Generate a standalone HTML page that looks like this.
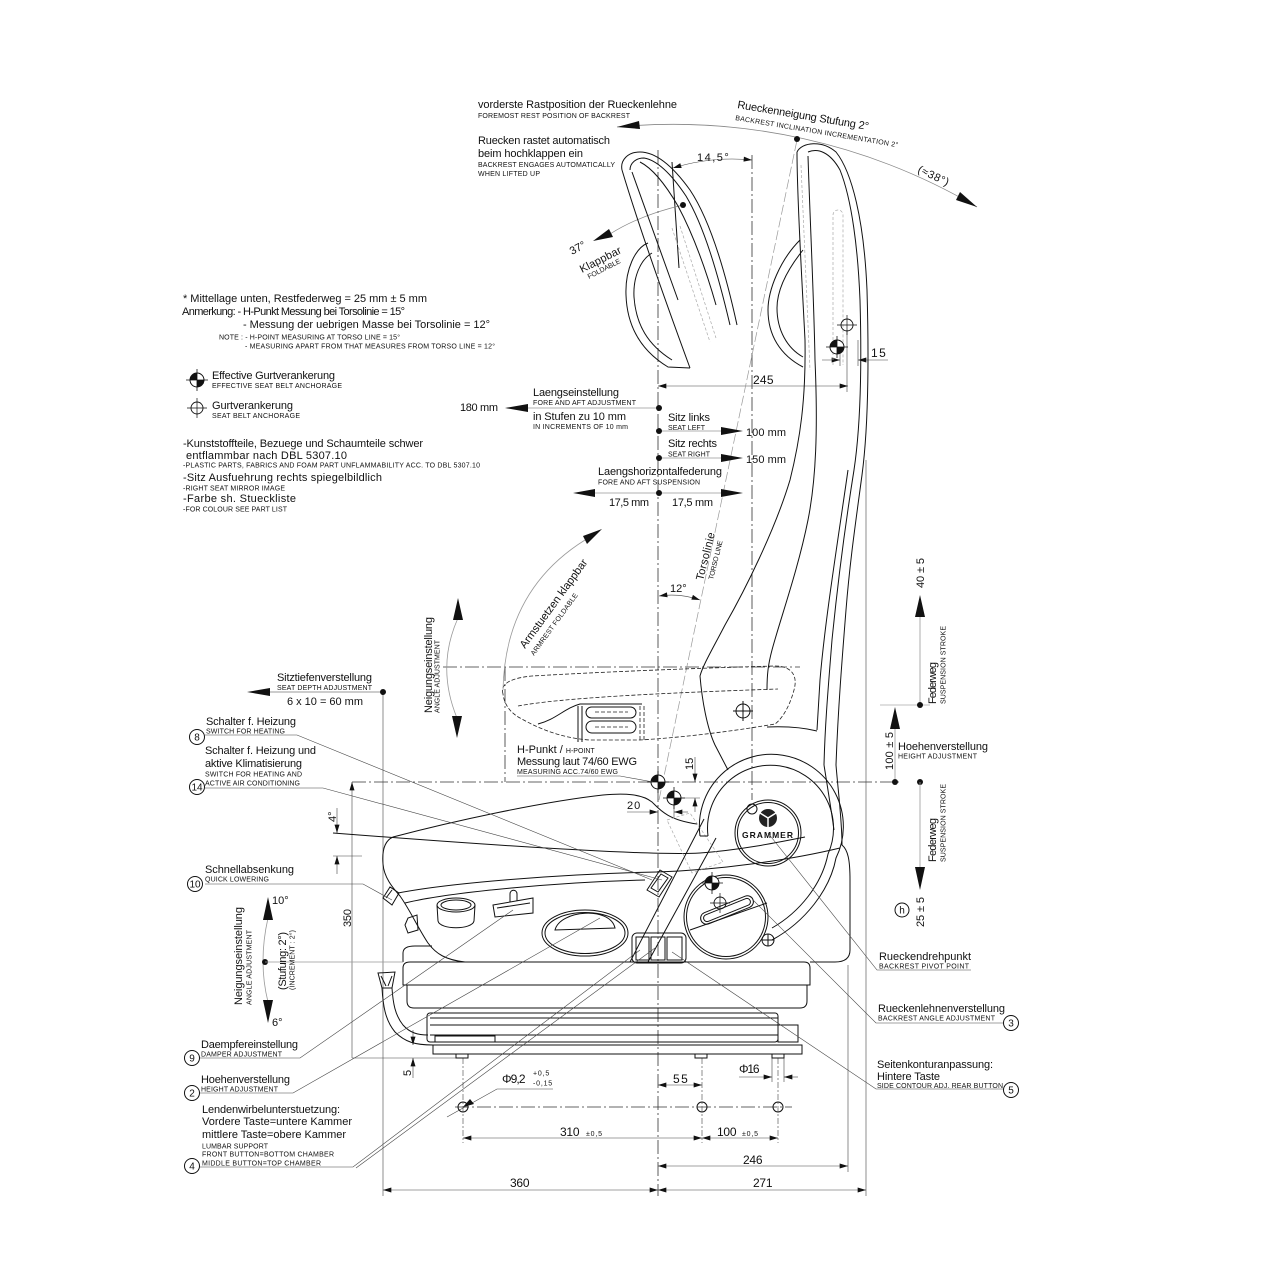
<!DOCTYPE html>
<html><head><meta charset="utf-8">
<style>
html,body{margin:0;padding:0;background:#fff;width:1280px;height:1280px;overflow:hidden}
svg{display:block}
text{font-family:"Liberation Sans",Arial,sans-serif;fill:#111;stroke:none}
.b{font-size:11px}
.s{font-size:7px}
.d{font-size:12px;letter-spacing:1.5px}
.n{font-size:10px;text-anchor:middle}
.k{fill:none;stroke:#111;stroke-width:1}
.t{fill:none;stroke:#444;stroke-width:0.6}
.dd{fill:none;stroke:#333;stroke-width:0.8;stroke-dasharray:14 3 2 3}
.dsh{fill:none;stroke:#222;stroke-width:0.8;stroke-dasharray:4 2}
.gr{fill:none;stroke:#aaa;stroke-width:0.7;stroke-dasharray:3 2}
.ar{fill:#111;stroke:none}
</style></head><body>
<svg width="1280" height="1280" viewBox="0 0 1280 1280" xmlns="http://www.w3.org/2000/svg">
<defs>
<marker id="m" viewBox="0 0 10 6" refX="10" refY="3" markerWidth="9" markerHeight="5" markerUnits="userSpaceOnUse" orient="auto-start-reverse"><path d="M0,0 L10,3 L0,6 z" fill="#111"/></marker>
<g id="eff"><circle r="7" fill="#fff" stroke="#111" stroke-width="1"/><path d="M0,0 L-7,0 A7,7 0 0 1 0,-7 Z M0,0 L7,0 A7,7 0 0 1 0,7 Z" fill="#111"/><path d="M-11,0 H11 M0,-11 V11" stroke="#111" stroke-width="0.8"/></g>
<g id="opn"><circle r="6" fill="none" stroke="#111" stroke-width="0.9"/><path d="M-10,0 H10 M0,-10 V10" stroke="#111" stroke-width="0.7"/></g>
</defs>

<!-- ============ CENTERLINES ============ -->
<line x1="658" y1="150" x2="658" y2="1196" class="dd"/>
<line x1="752" y1="155" x2="752" y2="800" class="dd"/>
<line x1="352" y1="782" x2="900" y2="782" class="dd"/>
<line x1="443" y1="667" x2="800" y2="667" class="dd"/>
<line x1="505" y1="667" x2="505" y2="782" class="dd"/>
<line x1="455" y1="1107" x2="792" y2="1107" class="dd"/>

<!-- extension lines -->
<line x1="383" y1="692" x2="383" y2="1196" class="t"/>
<line x1="866" y1="460" x2="866" y2="1196" class="t"/>
<line x1="848" y1="965" x2="848" y2="1172" class="t"/>
<line x1="352" y1="782" x2="352" y2="1058" class="t" marker-start="url(#m)"/>
<line x1="352" y1="1058" x2="463" y2="1058" class="t"/>
<line x1="463" y1="1058" x2="463" y2="1143" class="t" stroke-dasharray="6 2 2 2"/>
<line x1="702" y1="1058" x2="702" y2="1143" class="t" stroke-dasharray="6 2 2 2"/>
<line x1="778" y1="1058" x2="778" y2="1143" class="t" stroke-dasharray="6 2 2 2"/>
<line x1="772" y1="1058" x2="772" y2="1082" class="t"/>
<line x1="784" y1="1058" x2="784" y2="1082" class="t"/>
<line x1="847" y1="330" x2="847" y2="392" class="t"/>

<!-- dimension lines -->
<line x1="658" y1="386" x2="848" y2="386" class="t" marker-start="url(#m)" marker-end="url(#m)"/>
<line x1="383" y1="1190" x2="658" y2="1190" class="t" marker-start="url(#m)" marker-end="url(#m)"/>
<line x1="658" y1="1190" x2="866" y2="1190" class="t" marker-start="url(#m)" marker-end="url(#m)"/>
<line x1="658" y1="1166" x2="848" y2="1166" class="t" marker-start="url(#m)" marker-end="url(#m)"/>
<line x1="463" y1="1138" x2="702" y2="1138" class="t" marker-start="url(#m)" marker-end="url(#m)"/>
<line x1="702" y1="1138" x2="778" y2="1138" class="t" marker-start="url(#m)" marker-end="url(#m)"/>
<line x1="658" y1="1085" x2="702" y2="1085" class="t" marker-start="url(#m)" marker-end="url(#m)"/>
<line x1="739" y1="1077" x2="772" y2="1077" class="t" marker-end="url(#m)"/>
<line x1="798" y1="1077" x2="784" y2="1077" class="t" marker-end="url(#m)"/>
<polyline points="553,1089 497,1089 447,1117" class="t"/>
<polygon points="463,1107 470,1099 474,1104" class="ar"/>
<!-- 5 dim -->
<line x1="413" y1="1030" x2="413" y2="1045" class="t" marker-end="url(#m)"/>
<line x1="413" y1="1078" x2="413" y2="1058" class="t" marker-end="url(#m)"/>
<!-- 4 deg dim -->
<line x1="337" y1="808" x2="337" y2="833" class="t" marker-end="url(#m)"/>
<line x1="337" y1="874" x2="337" y2="856" class="t" marker-end="url(#m)"/>
<line x1="333" y1="856" x2="362" y2="856" class="t"/>
<path d="M 333,833 C 500,846 650,856 700,853 C 740,850 775,843 805,837" class="k" stroke-width="0.8"/>
<!-- 15 top right -->
<line x1="822" y1="360" x2="840" y2="360" class="t" marker-end="url(#m)"/>
<line x1="888" y1="360" x2="858" y2="360" class="t" marker-end="url(#m)"/>
<line x1="840" y1="345" x2="840" y2="366" class="t"/>
<line x1="858" y1="340" x2="858" y2="366" class="t"/>
<!-- H point dims -->
<line x1="695" y1="757" x2="695" y2="782" class="t" marker-end="url(#m)"/>
<line x1="695" y1="812" x2="695" y2="798" class="t" marker-end="url(#m)"/>
<line x1="677" y1="798" x2="700" y2="798" class="t"/>
<line x1="627" y1="812" x2="658" y2="812" class="t" marker-end="url(#m)"/>
<line x1="688" y1="812" x2="674" y2="812" class="t" marker-end="url(#m)"/>
<line x1="674" y1="798" x2="674" y2="818" class="t"/>
<!-- angle arcs -->
<path d="M 659,596 Q 680,593 700,600" class="t" marker-start="url(#m)" marker-end="url(#m)"/>
<path d="M 673,168 Q 712,156 752,160" class="t" marker-start="url(#m)" marker-end="url(#m)"/>
<line x1="672" y1="162" x2="679" y2="268" class="k" stroke-width="0.8"/>

<!-- torso lines -->
<line x1="659" y1="800" x2="797" y2="140" stroke="#999" stroke-width="0.7" stroke-dasharray="10 3"/>
<path d="M 683,205 Q 640,215 610,234" stroke="#888" stroke-width="0.7" fill="none"/>
<polygon points="593,241 609,229 613,237" class="ar"/>
<circle cx="683" cy="205" r="3" class="ar"/>

<!-- top arc -->
<path d="M 617,127 A 600 600 0 0 1 977,207" stroke="#888" stroke-width="0.8" fill="none"/>
<polygon points="617,127 639,121 640,129" class="ar"/>
<polygon points="977,207 960,192 956,200" class="ar"/>
<circle cx="797" cy="139" r="3" class="ar"/>

<!-- ============ FOLDED BACKREST ============ -->
<path class="k" d="M 622,170 C 620,160 628,152 640,152 C 655,152 672,165 690,190 C 710,220 725,270 737,325"/>
<path class="k" d="M 630,170 C 630,163 636,158 644,158 C 656,160 670,172 686,196 C 704,226 718,274 730,325"/>
<path class="k" d="M 640,162 C 652,168 664,182 678,206 C 694,236 706,270 716,305"/>
<path class="k" d="M 622,170 C 640,230 665,300 690,368"/>
<path class="k" d="M 632,172 L 678,300"/>
<path class="k" d="M 648,243 C 635,248 625,270 626,295 C 627,325 640,350 668,367 L 690,368"/>
<path class="k" d="M 652,253 C 640,260 633,278 634,297 C 636,325 648,345 672,360"/>
<path class="gr" d="M 672,228 L 710,342 M 680,226 L 716,338"/>

<!-- ============ REAR BACKREST ============ -->
<path class="k" d="M 797,152 C 802,142 822,140 836,152 C 852,172 864,220 867,290 C 869,360 868,430 862,475 C 856,520 850,560 846,610 C 842,660 838,710 836,765"/>
<path class="k" d="M 808,152 C 818,148 830,152 840,170 C 852,200 858,250 860,300 C 862,370 860,430 854,470 C 846,520 838,580 832,640 C 828,690 825,725 824,765"/>
<path class="k" d="M 848,470 C 838,540 825,620 820,680 L 817,730"/>
<path class="k" d="M 797,152 C 797,200 802,280 805,340 C 806,400 800,440 790,480 C 775,530 745,590 725,625 C 712,650 703,665 700,676 C 702,700 707,728 715,745 L 728,770"/>
<path class="k" d="M 808,156 C 810,220 814,300 815,360 C 818,430 816,480 808,520 C 798,570 780,620 772,650 C 768,665 767,675 767,690"/>
<path class="k" d="M 800,240 C 780,260 768,290 768,310 C 768,335 780,355 803,367"/>
<path class="k" d="M 803,250 C 787,270 777,290 777,308 C 777,330 787,348 803,357"/>
<path class="gr" d="M 833,365 L 833,215 A 5 5 0 0 1 843,215 L 843,365"/>
<path class="gr" d="M 801,165 L 810,370"/>
<path class="k" d="M 767,727 C 790,726 805,728 817,731"/>
<use href="#opn" x="847" y="325"/>
<use href="#eff" x="837" y="347"/>

<!-- ============ ARMREST (dashed) ============ -->
<path class="dsh" d="M 503,694 C 500,683 512,678 532,676 C 600,672 700,668 775,666 C 792,666 798,676 794,690 C 790,705 783,718 775,724 C 740,730 690,737 640,740 L 590,740 C 560,738 538,728 520,718 C 509,712 504,703 503,694 Z"/>
<path class="dsh" d="M 518,706 C 560,698 660,693 778,689"/>
<path class="k" d="M 538,724 C 555,720 565,708 580,704 L 642,704"/>
<rect x="586" y="707" width="50" height="11" rx="5.5" class="k"/>
<rect x="586" y="721" width="50" height="12" rx="6" class="k"/>
<path class="dsh" d="M 595,712 H 628 M 595,727 H 628"/>
<path class="k" stroke-width="0.7" d="M 578,706 V 742 M 582,706 V 742"/>
<path class="dsh" d="M 640,706 V 742 M 644,706 V 742"/>
<circle cx="743" cy="711" r="7" class="k"/>
<path class="k" stroke-width="0.7" d="M 733,711 H 753 M 743,701 V 721"/>

<!-- ============ SEAT ============ -->
<path class="k" d="M 393,837 C 450,822 540,802 603,795 C 625,793 642,794 652,802 C 660,810 668,820 697,824"/>
<path class="k" d="M 393,837 C 384,841 382,852 383,864 C 384,877 392,887 400,896 C 410,910 418,928 428,943 C 436,954 446,960 465,962"/>
<path class="k" d="M 398,893 C 450,883 560,874 657,872 C 720,870 790,860 840,848"/>
<path class="k" d="M 405,903 C 450,892 560,882 645,880"/>
<path class="k" d="M 403,962 L 403,953 C 403,948 408,946 415,946 L 432,946"/>
<path class="k" d="M 383,898 L 390,887 L 399,893 L 392,905 Z M 386,898 L 392,890"/>
<path class="k" d="M 405,925 L 408,918 L 417,915 L 418,930 L 408,933 Z"/>
<!-- cylinder knob -->
<ellipse cx="456" cy="905" rx="19" ry="7" class="k"/>
<ellipse cx="456" cy="905" rx="15" ry="5" class="k" stroke-width="0.6"/>
<path class="k" d="M 437,905 L 438,921 C 440,930 472,930 474,921 L 475,905"/>
<!-- T lever -->
<path class="k" d="M 493,905 L 533,898 L 533,913 L 495,917 Z"/>
<path class="k" d="M 510,902 L 510,894 C 510,889 517,889 517,894 L 517,901"/>
<path class="k" stroke-width="0.6" d="M 497,908 L 530,903"/>
<!-- oval handle -->
<ellipse cx="585" cy="933" rx="43" ry="23" class="k" stroke-width="1.4"/>
<ellipse cx="585" cy="933" rx="40" ry="20.5" class="k" stroke-width="0.6"/>
<path class="k" stroke-width="1.2" d="M 555,930 C 560,910 610,906 615,928 Z"/>
<!-- console band -->
<line x1="630" y1="962" x2="704" y2="819" class="k"/>
<line x1="648" y1="962" x2="716" y2="838" class="k"/>
<polygon points="647,890 660,870 672,877 659,897" class="k" stroke-width="1.3"/>
<polygon points="651,888 661,874 668,878 658,892" class="k" stroke-width="0.6"/>
<polygon points="667,820 690,813 723,862 692,873" class="gr"/>
<!-- buttons -->
<rect x="632" y="933" width="54" height="30" rx="5" class="k" stroke-width="1.3"/>
<rect x="636" y="937" width="13" height="23" class="k" stroke-width="0.8"/>
<rect x="651" y="937" width="14" height="23" class="k" stroke-width="0.8"/>
<rect x="667" y="937" width="15" height="23" class="k" stroke-width="0.8"/>

<!-- pivot housing -->
<path class="k" d="M 700,836 A 72 72 0 1 1 836,858 C 830,890 805,922 772,940"/>
<path class="k" d="M 708,836 A 63 63 0 1 1 828,854 C 822,884 800,912 772,928"/>
<line x1="700" y1="836" x2="708" y2="836" class="k"/>
<circle cx="768" cy="833" r="33" class="k"/>
<circle cx="768" cy="833" r="30.5" class="k" stroke-width="0.6"/>
<circle cx="768" cy="818" r="9" fill="#222"/>
<path d="M 768,818 L 768,827 M 768,818 L 760,813 M 768,818 L 776,813" stroke="#fff" stroke-width="1.5"/>
<text x="742" y="838" font-size="8.5" font-weight="bold" textLength="51" fill="#222">GRAMMER</text>
<circle cx="752" cy="809" r="5" class="k" stroke-width="0.8"/>
<circle cx="726" cy="917" r="42" class="k"/>
<circle cx="726" cy="917" r="39.5" class="k" stroke-width="0.6"/>
<rect x="-28" y="-6" width="56" height="12" rx="6" transform="translate(727,910) rotate(-22)" class="k"/>
<rect x="-25" y="-3.5" width="50" height="7" rx="3.5" transform="translate(727,910) rotate(-22)" class="k" stroke-width="0.6"/>
<line x1="690" y1="930" x2="767" y2="903" class="k" stroke-width="0.8"/>
<use href="#eff" x="712" y="883"/>
<use href="#opn" x="720" y="903"/>
<circle cx="768" cy="940" r="6" class="k"/>
<path class="k" stroke-width="0.6" d="M 762,940 H 774 M 768,934 V 946"/>
<path class="k" d="M 836,765 C 838,790 842,820 842,845 C 848,850 850,860 850,880 L 850,950 C 850,958 845,962 835,962 L 810,962"/>
<path class="k" d="M 824,765 C 828,790 832,815 834,830"/>

<!-- suspension / base -->
<path class="k" d="M 403,985 L 403,968 Q 403,962 410,962 L 804,962 Q 810,962 810,968 L 810,985 Z"/>
<path class="k" d="M 407,985 L 407,1001 Q 407,1008 414,1008 L 800,1008 Q 807,1008 807,1001 L 807,985"/>
<rect x="427" y="1013" width="351" height="29" rx="3" class="k"/>
<path class="k" stroke-width="0.7" d="M 430,1018 H 778 M 430,1025 H 778 M 430,1035 H 778"/>
<rect x="778" y="1025" width="20" height="17" class="k"/>
<rect x="435" y="1036" width="60" height="6" class="k"/>
<rect x="433" y="1045" width="369" height="9" class="k"/>
<rect x="456" y="1054" width="12" height="4" class="k"/>
<rect x="695" y="1054" width="12" height="4" class="k"/>
<rect x="772" y="1054" width="12" height="4" class="k"/>
<path class="k" d="M 378,973 L 395,972 L 392,988 L 382,988 Z M 381,976 L 386,986 M 392,976 L 388,986"/>
<path class="k" d="M 382,988 C 383,1005 385,1020 395,1032 C 405,1042 415,1045 433,1045"/>
<path class="k" d="M 392,988 C 393,1003 395,1015 403,1025 C 410,1033 418,1035 428,1035"/>
<circle cx="463" cy="1107" r="5" class="k" fill="#fff"/>
<circle cx="702" cy="1107" r="5" class="k" fill="#fff"/>
<circle cx="778" cy="1107" r="5" class="k" fill="#fff"/>

<!-- H points -->
<use href="#eff" x="658" y="782"/>
<use href="#eff" x="674" y="798"/>
<polyline points="517,776 620,776 653,782" class="t"/>

<!-- ============ BIG ARROWS / ADJUSTMENT ============ -->
<line x1="528" y1="408" x2="659" y2="408" stroke="#999" stroke-width="0.8"/>
<polygon points="505,408 528,404 528,412" class="ar"/>
<line x1="659" y1="431" x2="721" y2="431" stroke="#999" stroke-width="0.8"/>
<polygon points="743,431 721,427 721,435" class="ar"/>
<line x1="659" y1="458" x2="721" y2="458" stroke="#999" stroke-width="0.8"/>
<polygon points="743,458 721,454 721,462" class="ar"/>
<line x1="595" y1="493" x2="721" y2="493" stroke="#999" stroke-width="0.8"/>
<polygon points="573,493 595,489 595,497" class="ar"/>
<polygon points="743,493 721,489 721,497" class="ar"/>
<circle cx="659" cy="408" r="3" class="ar"/>
<circle cx="659" cy="431" r="3" class="ar"/>
<circle cx="659" cy="458" r="3" class="ar"/>
<circle cx="659" cy="493" r="3" class="ar"/>
<line x1="270" y1="692" x2="383" y2="692" stroke="#777" stroke-width="0.8"/>
<polygon points="247,692 270,688 270,696" class="ar"/>
<circle cx="383" cy="692" r="3" class="ar"/>
<path d="M 458,618 Q 436,667 457,718" stroke="#999" stroke-width="0.8" fill="none"/>
<polygon points="458,598 453,620 463,620" class="ar"/>
<polygon points="457,738 452,716 462,716" class="ar"/>
<path d="M 503,690 Q 505,590 585,540" stroke="#999" stroke-width="0.8" fill="none"/>
<polygon points="602,529 587,544 583,536" class="ar"/>
<path d="M 268,918 Q 258,962 268,1002" stroke="#999" stroke-width="0.8" fill="none"/>
<polygon points="268,897 263,920 273,920" class="ar"/>
<polygon points="268,1023 263,1000 273,1000" class="ar"/>
<circle cx="265" cy="962" r="3" class="ar"/>
<line x1="265" y1="962" x2="403" y2="962" stroke="#999" stroke-width="0.7"/>
<!-- right vertical -->
<line x1="880" y1="705" x2="930" y2="705" stroke="#aaa" stroke-width="0.7"/>
<line x1="920" y1="617" x2="920" y2="705" stroke="#999" stroke-width="0.8"/>
<polygon points="920,595 915,617 925,617" class="ar"/>
<circle cx="920" cy="705" r="3" class="ar"/>
<line x1="895" y1="729" x2="895" y2="782" stroke="#999" stroke-width="0.8"/>
<polygon points="895,707 890,729 900,729" class="ar"/>
<circle cx="895" cy="782" r="3" class="ar"/>
<circle cx="920" cy="782" r="3" class="ar"/>
<line x1="920" y1="782" x2="920" y2="867" stroke="#999" stroke-width="0.8"/>
<polygon points="920,890 915,867 925,867" class="ar"/>

<!-- ============ LEADERS ============ -->
<polyline points="205,735 297,735 652,880" class="t" stroke="#222"/>
<polyline points="205,788 323,788 662,880" class="t" stroke="#222"/>
<polyline points="205,884 363,884 392,900" class="t" stroke="#222"/>
<polyline points="200,1058 300,1058 513,910" class="t" stroke="#222"/>
<polyline points="200,1093 293,1093 600,918" class="t" stroke="#222"/>
<polyline points="200,1167 353,1167 640,950" class="t" stroke="#222"/>
<line x1="356" y1="1168" x2="655" y2="948" class="t" stroke="#222"/>
<polyline points="971,970 877,970 768,833" class="t" stroke="#222"/>
<polyline points="1004,1023 876,1023 753,900" class="t" stroke="#222"/>
<polyline points="1004,1089 876,1089 672,952" class="t" stroke="#222"/>

<!-- numbered circles -->
<g class="k" stroke-width="0.9" fill="#fff">
<circle cx="197" cy="737" r="7.5"/><circle cx="197" cy="787" r="7.5"/><circle cx="195" cy="884" r="7.5"/>
<circle cx="192" cy="1058" r="7.5"/><circle cx="192" cy="1093" r="7.5"/><circle cx="192" cy="1166" r="7.5"/>
<circle cx="1011" cy="1023" r="7.5"/><circle cx="1011" cy="1090" r="7.5"/><circle cx="902" cy="910" r="7"/>
</g>
<text class="n" x="197" y="740.5">8</text>
<text class="n" x="197" y="790.5" font-size="9">14</text>
<text class="n" x="195" y="887.5" font-size="9">10</text>
<text class="n" x="192" y="1061.5">9</text>
<text class="n" x="192" y="1096.5">2</text>
<text class="n" x="192" y="1169.5">4</text>
<text class="n" x="1011" y="1026.5">3</text>
<text class="n" x="1011" y="1093.5">5</text>
<text class="n" x="902" y="913.5">h</text>

<!-- legend symbols -->
<use href="#eff" x="197" y="380"/>
<use href="#opn" x="197" y="408"/>

<!-- ============ TEXT ============ -->
<text class="b" x="478" y="108" textLength="199">vorderste Rastposition der Rueckenlehne</text>
<text class="s" x="478" y="118" textLength="152">FOREMOST REST POSITION OF BACKREST</text>
<text class="b" x="478" y="144" textLength="132">Ruecken rastet automatisch</text>
<text class="b" x="478" y="157" textLength="105">beim hochklappen ein</text>
<text class="s" x="478" y="167" textLength="137">BACKREST ENGAGES AUTOMATICALLY</text>
<text class="s" x="478" y="176" textLength="62">WHEN LIFTED UP</text>
<text class="b" transform="translate(737,108) rotate(9.5)" textLength="133">Rueckenneigung Stufung 2°</text>
<text class="s" transform="translate(735,120) rotate(9.5)" textLength="165">BACKREST INCLINATION INCREMENTATION 2°</text>
<text class="b" transform="translate(917,172) rotate(25)" textLength="33">(≈38°)</text>
<text x="697" y="161" font-size="11" letter-spacing="1.5">14,5°</text>
<text class="b" transform="translate(572,255) rotate(-28)">37°</text>
<text class="b" transform="translate(582,273) rotate(-27)" textLength="45">Klappbar</text>
<text class="s" transform="translate(589,279) rotate(-27)" textLength="36">FOLDABLE</text>
<text class="d" x="871" y="357" font-size="11">15</text>
<text class="d" x="753" y="384" font-size="11" textLength="22">245</text>

<text class="b" x="183" y="302" textLength="244">* Mittellage unten, Restfederweg = 25 mm ± 5 mm</text>
<text class="b" x="182" y="315" textLength="223">Anmerkung: - H-Punkt Messung bei Torsolinie = 15°</text>
<text class="b" x="243" y="328" textLength="247">- Messung der uebrigen Masse bei Torsolinie = 12°</text>
<text class="s" x="219" y="339.5" textLength="181">NOTE : - H-POINT MEASURING AT TORSO LINE = 15°</text>
<text class="s" x="245" y="348.5" textLength="250">- MEASURING APART FROM THAT MEASURES FROM TORSO LINE = 12°</text>
<text class="b" x="212" y="379" textLength="123">Effective Gurtverankerung</text>
<text class="s" x="212" y="388" textLength="130">EFFECTIVE SEAT BELT ANCHORAGE</text>
<text class="b" x="212" y="409" textLength="81">Gurtverankerung</text>
<text class="s" x="212" y="418" textLength="88">SEAT BELT ANCHORAGE</text>
<text class="b" x="183" y="447" textLength="240">-Kunststoffteile, Bezuege und Schaumteile schwer</text>
<text class="b" x="186" y="459" textLength="161">entflammbar nach DBL 5307.10</text>
<text class="s" x="183" y="467.5" textLength="297">-PLASTIC PARTS, FABRICS AND FOAM PART UNFLAMMABILITY ACC. TO DBL 5307.10</text>
<text class="b" x="183" y="481" textLength="199">-Sitz Ausfuehrung rechts spiegelbildlich</text>
<text class="s" x="183" y="490.5" textLength="102">-RIGHT SEAT MIRROR IMAGE</text>
<text class="b" x="183" y="502" textLength="113">-Farbe sh. Stueckliste</text>
<text class="s" x="183" y="511.5" textLength="104">-FOR COLOUR SEE PART LIST</text>

<text class="b" x="460" y="411" textLength="38">180 mm</text>
<text class="b" x="533" y="396" textLength="86">Laengseinstellung</text>
<text class="s" x="533" y="405" textLength="103">FORE AND AFT ADJUSTMENT</text>
<text class="b" x="533" y="420" textLength="93">in Stufen zu 10 mm</text>
<text class="s" x="533" y="429" textLength="95">IN INCREMENTS OF 10 mm</text>
<text class="b" x="668" y="421" textLength="42">Sitz links</text>
<text class="s" x="668" y="430" textLength="37">SEAT LEFT</text>
<text class="b" x="746" y="436" textLength="40">100 mm</text>
<text class="b" x="668" y="447" textLength="49">Sitz rechts</text>
<text class="s" x="668" y="456.5" textLength="42">SEAT RIGHT</text>
<text class="b" x="746" y="463" textLength="40">150 mm</text>
<text class="b" x="598" y="475" textLength="124">Laengshorizontalfederung</text>
<text class="s" x="598" y="484.5" textLength="102">FORE AND AFT SUSPENSION</text>
<text class="b" x="609" y="506" textLength="40">17,5 mm</text>
<text class="b" x="672" y="506" textLength="41">17,5 mm</text>

<text class="b" transform="translate(703,581) rotate(-76)" textLength="49">Torsolinie</text>
<text class="s" transform="translate(713,580) rotate(-76)" textLength="40">TORSO LINE</text>
<text class="b" x="670" y="592">12°</text>
<text class="b" transform="translate(525,649) rotate(-54)" textLength="107">Armstuetzen klappbar</text>
<text class="s" transform="translate(534,656) rotate(-54)" textLength="75">ARMREST FOLDABLE</text>
<text class="b" transform="translate(432,713) rotate(-90)" textLength="96">Neigungseinstellung</text>
<text class="s" transform="translate(439.5,713) rotate(-90)" textLength="73">ANGLE ADJUSTMENT</text>

<text class="b" x="277" y="681" textLength="95">Sitztiefenverstellung</text>
<text class="s" x="277" y="690" textLength="95">SEAT DEPTH ADJUSTMENT</text>
<text class="b" x="287" y="705" textLength="76">6 x 10 = 60 mm</text>
<text class="b" x="206" y="725" textLength="90">Schalter f. Heizung</text>
<text class="s" x="206" y="733.5" textLength="79">SWITCH FOR HEATING</text>
<text class="b" x="205" y="754" textLength="111">Schalter f. Heizung und</text>
<text class="b" x="205" y="767" textLength="97">aktive Klimatisierung</text>
<text class="s" x="205" y="776.5" textLength="97">SWITCH FOR HEATING AND</text>
<text class="s" x="205" y="785.5" textLength="95">ACTIVE AIR CONDITIONING</text>
<text class="b" x="517" y="753">H-Punkt / <tspan font-size="7">H-POINT</tspan></text>
<text class="b" x="517" y="765" textLength="120">Messung laut 74/60 EWG</text>
<text class="s" x="517" y="774" textLength="101">MEASURING ACC.74/60 EWG</text>
<text class="b" transform="translate(693,770) rotate(-90)">15</text>
<text class="b" x="627" y="809" letter-spacing="1">20</text>
<text class="b" transform="translate(336,822) rotate(-90)" font-size="9">4°</text>
<text class="b" transform="translate(351,927) rotate(-90)" textLength="18">350</text>
<text class="b" x="205" y="873" textLength="89">Schnellabsenkung</text>
<text class="s" x="205" y="881.5" textLength="64">QUICK LOWERING</text>
<text class="b" x="272" y="904" font-size="10">10°</text>
<text class="b" x="272" y="1026" font-size="10">6°</text>
<text class="b" transform="translate(242,1005) rotate(-90)" textLength="98">Neigungseinstellung</text>
<text class="s" transform="translate(251.5,1005) rotate(-90)" textLength="75">ANGLE ADJUSTMENT</text>
<text class="b" transform="translate(286,990) rotate(-90)" textLength="58">(Stufung: 2°)</text>
<text class="s" transform="translate(294.5,990) rotate(-90)" textLength="60">(INCREMENT : 2°)</text>
<text class="b" x="201" y="1048" textLength="97">Daempfereinstellung</text>
<text class="s" x="201" y="1056.5" textLength="81">DAMPER ADJUSTMENT</text>
<text class="b" x="201" y="1083" textLength="89">Hoehenverstellung</text>
<text class="s" x="201" y="1091.5" textLength="77">HEIGHT ADJUSTMENT</text>
<text class="b" x="202" y="1113" textLength="138">Lendenwirbelunterstuetzung:</text>
<text class="b" x="202" y="1125" textLength="150">Vordere Taste=untere Kammer</text>
<text class="b" x="202" y="1138" textLength="144">mittlere Taste=obere Kammer</text>
<text class="s" x="202" y="1148.5" textLength="66">LUMBAR SUPPORT</text>
<text class="s" x="202" y="1156.5" textLength="132">FRONT BUTTON=BOTTOM CHAMBER</text>
<text class="s" x="202" y="1165.5" textLength="119">MIDDLE BUTTON=TOP CHAMBER</text>
<text class="b" transform="translate(411,1076) rotate(-90)">5</text>

<text class="d" x="502" y="1083" font-size="11" textLength="25">Φ9,2</text>
<text x="533" y="1075.5" font-size="7" letter-spacing="0.8">+0,5</text>
<text x="533" y="1085.5" font-size="7" letter-spacing="0.8">-0,15</text>
<text class="d" x="673" y="1083" font-size="11">55</text>
<text class="d" x="739" y="1073" font-size="11" textLength="22">Φ16</text>
<text class="d" x="560" y="1136" font-size="11" textLength="21">310</text>
<text x="586" y="1136" font-size="7" letter-spacing="0.8">±0,5</text>
<text class="d" x="717" y="1136" font-size="11" textLength="21">100</text>
<text x="742" y="1136" font-size="7" letter-spacing="0.8">±0,5</text>
<text class="d" x="743" y="1164" font-size="11" textLength="21">246</text>
<text class="d" x="510" y="1187" font-size="11" textLength="21">360</text>
<text class="d" x="753" y="1187" font-size="11" textLength="21">271</text>

<text class="b" x="879" y="960" textLength="92">Rueckendrehpunkt</text>
<text class="s" x="879" y="968.5" textLength="90">BACKREST PIVOT POINT</text>
<text class="b" x="878" y="1012" textLength="127">Rueckenlehnenverstellung</text>
<text class="s" x="878" y="1020.5" textLength="117">BACKREST ANGLE ADJUSTMENT</text>
<text class="b" x="877" y="1068" textLength="116">Seitenkonturanpassung:</text>
<text class="b" x="877" y="1080" textLength="63">Hintere Taste</text>
<text class="s" x="877" y="1088" textLength="126">SIDE CONTOUR ADJ. REAR BUTTON</text>

<text class="b" transform="translate(924,588) rotate(-90)" textLength="30">40 ± 5</text>
<text class="b" transform="translate(936,704) rotate(-90)" textLength="42">Federweg</text>
<text class="s" transform="translate(945.5,704) rotate(-90)" textLength="78">SUSPENSION STROKE</text>
<text class="b" transform="translate(893,770) rotate(-90)" textLength="38">100 ± 5</text>
<text class="b" x="898" y="750" textLength="90">Hoehenverstellung</text>
<text class="s" x="898" y="758.5" textLength="79">HEIGHT ADJUSTMENT</text>
<text class="b" transform="translate(936,862) rotate(-90)" textLength="44">Federweg</text>
<text class="s" transform="translate(945.5,862) rotate(-90)" textLength="78">SUSPENSION STROKE</text>
<text class="b" transform="translate(924,927) rotate(-90)" textLength="30">25 ± 5</text>
</svg>
</body></html>
